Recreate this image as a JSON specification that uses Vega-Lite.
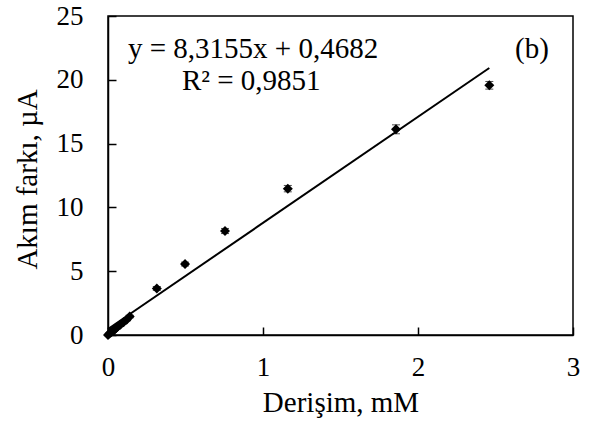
{
  "$schema": "https://vega.github.io/schema/vega-lite/v6.json",
  "width": 465,
  "height": 319,
  "autosize": "none",
  "padding": {"left": 108, "top": 16, "right": 18, "bottom": 88},
  "background": "white",
  "config": {
    "font": "Liberation Serif",
    "view": {"stroke": "black", "strokeWidth": 1.5},
    "axis": {
      "domainColor": "black",
      "domainWidth": 1.5,
      "tickColor": "black",
      "tickWidth": 1.5,
      "tickSize": -8,
      "grid": false,
      "labelFlush": false,
      "labelFont": "Liberation Serif",
      "labelFontSize": 27,
      "labelColor": "black",
      "titleFont": "Liberation Serif",
      "titleFontSize": 29,
      "titleFontWeight": "normal",
      "titleColor": "black"
    }
  },
  "datasets": {
    "measurements": [
      {"conc": 0.0, "current": 0.0, "err": 0.05},
      {"conc": 0.01, "current": 0.12, "err": 0.05},
      {"conc": 0.02, "current": 0.22, "err": 0.05},
      {"conc": 0.03, "current": 0.3, "err": 0.05},
      {"conc": 0.04, "current": 0.4, "err": 0.05},
      {"conc": 0.05, "current": 0.5, "err": 0.05},
      {"conc": 0.06, "current": 0.62, "err": 0.05},
      {"conc": 0.08, "current": 0.8, "err": 0.08},
      {"conc": 0.1, "current": 1.0, "err": 0.08},
      {"conc": 0.12, "current": 1.2, "err": 0.1},
      {"conc": 0.14, "current": 1.45, "err": 0.1},
      {"conc": 0.315, "current": 3.65, "err": 0.15},
      {"conc": 0.497, "current": 5.56, "err": 0.15},
      {"conc": 0.755, "current": 8.15, "err": 0.2},
      {"conc": 1.16, "current": 11.47, "err": 0.25},
      {"conc": 1.858, "current": 16.12, "err": 0.35},
      {"conc": 2.46, "current": 19.57, "err": 0.3}
    ],
    "fit": [
      {"conc": 0.0, "current": 0.4682},
      {"conc": 2.46, "current": 20.9243}
    ],
    "notes": [
      {"line": "equation", "label": "y = 8,3155x + 0,4682"},
      {"line": "r2", "label": "R² = 0,9851"},
      {"line": "panel", "label": "(b)"}
    ]
  },
  "layer": [
    {
      "data": {"name": "fit"},
      "mark": {"type": "line", "color": "black", "strokeWidth": 2},
      "encoding": {
        "x": {
          "field": "conc",
          "type": "quantitative",
          "title": "Derişim, mM",
          "scale": {"domain": [0, 3], "nice": false, "zero": false},
          "axis": {"values": [0, 1, 2, 3], "format": "d", "labelPadding": 27, "titlePadding": 8}
        },
        "y": {
          "field": "current",
          "type": "quantitative",
          "title": "Akım farkı, µA",
          "scale": {"domain": [0, 25], "nice": false},
          "axis": {"values": [0, 5, 10, 15, 20, 25], "format": "d", "labelPadding": 33, "titlePadding": 14, "titleY": 163}
        }
      }
    },
    {
      "data": {"name": "measurements"},
      "transform": [
        {"calculate": "datum.current - datum.err", "as": "lo"},
        {"calculate": "datum.current + datum.err", "as": "hi"}
      ],
      "mark": {"type": "errorbar", "ticks": {"size": 8, "color": "black"}, "rule": {"color": "black", "strokeWidth": 1}},
      "encoding": {
        "x": {"field": "conc", "type": "quantitative", "title": "Derişim, mM"},
        "y": {"field": "lo", "type": "quantitative", "title": "Akım farkı, µA"},
        "y2": {"field": "hi"}
      }
    },
    {
      "data": {"name": "measurements"},
      "mark": {"type": "point", "shape": "diamond", "filled": true, "color": "black", "size": 100, "opacity": 1},
      "encoding": {
        "x": {"field": "conc", "type": "quantitative", "title": "Derişim, mM"},
        "y": {"field": "current", "type": "quantitative", "title": "Akım farkı, µA"}
      }
    },
    {
      "data": {"name": "notes"},
      "transform": [{"filter": "datum.line === 'equation'"}],
      "mark": {"type": "text", "align": "left", "baseline": "middle", "fontSize": 29, "color": "black", "font": "Liberation Serif"},
      "encoding": {
        "x": {"datum": 0.129},
        "y": {"datum": 22.41},
        "text": {"field": "label"}
      }
    },
    {
      "data": {"name": "notes"},
      "transform": [{"filter": "datum.line === 'r2'"}],
      "mark": {"type": "text", "align": "left", "baseline": "middle", "fontSize": 29, "color": "black", "font": "Liberation Serif"},
      "encoding": {
        "x": {"datum": 0.477},
        "y": {"datum": 19.9},
        "text": {"field": "label"}
      }
    },
    {
      "data": {"name": "notes"},
      "transform": [{"filter": "datum.line === 'panel'"}],
      "mark": {"type": "text", "align": "left", "baseline": "middle", "fontSize": 29, "color": "black", "font": "Liberation Serif"},
      "encoding": {
        "x": {"datum": 2.626},
        "y": {"datum": 22.41},
        "text": {"field": "label"}
      }
    }
  ]
}
